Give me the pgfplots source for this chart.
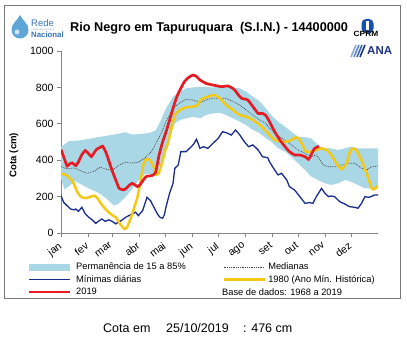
\documentclass[border=0pt]{standalone}
\usepackage{pgfplots}
\pgfplotsset{compat=1.18}
\usepgfplotslibrary{fillbetween}
\usepackage{fontspec}
\setmainfont{Liberation Sans}
\definecolor{bandc}{RGB}{170,215,229}
\definecolor{redc}{RGB}{228,28,36}
\definecolor{yelc}{RGB}{244,200,20}
\definecolor{bluec}{RGB}{24,44,140}
\definecolor{axgray}{RGB}{134,134,134}
\definecolor{framegray}{RGB}{120,120,120}
\definecolor{cprmblue}{RGB}{20,80,175}
\definecolor{anablue}{RGB}{30,50,130}
\definecolor{redeblue}{RGB}{55,115,185}
\definecolor{dropblue}{RGB}{95,165,215}
\begin{document}
\begin{tikzpicture}[x=1pt,y=1pt]
\path (0,0) rectangle (407,350);
\draw[framegray, line width=1pt] (4.5,344) rectangle (400.5,51);
% logos and title
\fill[dropblue] (20,335) to[out=-65,in=90] (28.5,320) arc(0:-180:8.5) to[out=90,in=-115] (20,335);
\fill[white!70!dropblue] (17,318) circle (2.5);
\node[anchor=base west, inner sep=0, text=redeblue, font=\fontsize{9.5}{10}\selectfont] at (31,323.5) {Rede};
\node[anchor=base west, inner sep=0, text=redeblue!60, font=\fontsize{2.6}{3}\selectfont] at (31.5,319.5) {Hidrometeorológica};
\node[anchor=base west, inner sep=0, text=redeblue, font=\bfseries\fontsize{7.8}{9}\selectfont] at (31,312.7) {Nacional};
\node[anchor=base west, inner sep=0, font=\bfseries\fontsize{12.7}{15}\selectfont] at (70,318.3) {Rio Negro em Tapuruquara\ \ (S.I.N.) - 14400000};
\fill[cprmblue, rounded corners=4.5] (361.5,317) rectangle (373.5,331);
\fill[white] (366.4,319.5) rectangle (368.6,328.5);
\node[anchor=base, inner sep=0, font=\bfseries\fontsize{7.6}{9}\selectfont, xscale=1.1] at (366,313) {CPRM};
\foreach \i/\c in {0/cprmblue!50,1/cprmblue!70,2/cprmblue!85,3/anablue} {
  \draw[\c, line width=1.6pt] (351+3*\i,293) -- (356+3*\i,305);
}
\node[anchor=base west, inner sep=0, text=anablue, font=\bfseries\fontsize{11.5}{13}\selectfont] at (367,295) {ANA};
% axis
\begin{axis}[
  at={(61pt,117pt)}, anchor=south west,
  scale only axis, width=317pt, height=182pt,
  xmin=0, xmax=365, ymin=0, ymax=1000,
  axis lines=left,
  axis line style={-, draw=axgray, line width=0.8pt},
  tick style={axgray, line width=0.8pt},
  tick align=outside, major tick length=4pt,
  xtick={0,31,59,90,120,151,181,212,243,273,304,334},
  xticklabels={jan,fev,mar,abr,mai,jun,jul,ago,set,out,nov,dez},
  ytick={0,200,400,600,800,1000},
  x tick label style={xshift=-3pt, yshift=-3pt, rotate=37, anchor=north east, inner sep=1pt, font=\fontsize{10.5}{12}\selectfont},
  y tick label style={font=\fontsize{10.5}{12}\selectfont},
  /pgf/number format/assume math mode=true,
  /pgf/number format/1000 sep={},
  legend columns=2,
  legend cell align=left,
  legend image code/.code={\draw[#1] (0pt,0pt) -- (41pt,0pt);},
  legend style={at={(-0.1104,-0.1547)}, anchor=north west, draw=none, fill=none,
    inner sep=0pt, row sep=0pt,
    font=\fontsize{9.3}{11}\selectfont,
    nodes={inner xsep=2.5pt, inner ysep=1.2pt, text height=7.4pt, text depth=2.4pt},
    /tikz/every even column/.append style={column sep=34pt}},
]
\addlegendimage{bandc, line width=6.5pt}
\addlegendentry{Permanência de 15 a 85\%}
\addlegendimage{black!75, line width=0.7pt, dash pattern=on 0.8pt off 1pt}
\addlegendentry{Medianas}
\addlegendimage{bluec, line width=1.3pt}
\addlegendentry{Mínimas diárias}
\addlegendimage{yelc, line width=2.5pt}
\addlegendentry{1980 (Ano Mín. Histórica)}
\addlegendimage{redc, line width=2.7pt}
\addlegendentry{2019}

\addplot[name path=up, draw=none, forget plot] coordinates {
(0,472) (5,490) (9,505) (20,508) (32,517) (43,527) (55,536) (66,545) (74,554) (82,541) (93,545) (101,549) (109,563) (114,609) (121,685) (129,749) (137,777) (144,795) (152,800) (163,804) (175,800) (186,804) (198,800) (206,795) (213,777) (221,749) (229,722) (235,690) (242,648) (250,612) (258,584) (265,557) (273,529) (281,526) (288,520) (292,502) (298,474) (304,465) (311,465) (319,456) (327,465) (334,474) (342,465) (350,465) (357,465) (365,465)
};
\addplot[name path=lo, draw=none, forget plot] coordinates {
(0,300) (4,240) (10,260) (16,285) (24,265) (32,245) (40,228) (47,210) (55,178) (61,150) (66,160) (74,196) (82,242) (89,288) (97,325) (105,325) (112,347) (116,390) (120,440) (125,529) (131,603) (137,621) (144,630) (152,639) (160,630) (167,648) (175,657) (183,661) (190,648) (198,630) (206,612) (213,593) (221,566) (229,548) (236,520) (242,502) (250,465) (258,447) (265,419) (273,383) (281,346) (288,310) (296,291) (304,273) (311,264) (319,273) (327,291) (334,282) (342,264) (350,245) (357,245) (365,245)
};
\addplot[fill=bandc, draw=none, forget plot] fill between[of=up and lo];

\addplot[black!75, line width=0.7pt, dash pattern=on 0.8pt off 1pt, forget plot] coordinates {
(0,365) (7,352) (15,358) (22,343) (30,328) (38,339) (45,361) (51,352) (59,343) (66,371) (74,389) (82,384) (89,389) (97,413) (105,453) (110,499) (116,554) (121,612) (129,685) (136,712) (144,734) (152,731) (160,716) (167,731) (175,740) (183,740) (190,740) (198,722) (206,703) (213,676) (221,648) (229,621) (235,605) (242,566) (250,533) (258,511) (265,484) (273,456) (281,438) (288,419) (294,429) (298,401) (302,374) (308,364) (315,364) (323,374) (331,383) (338,383) (346,355) (352,346) (357,364) (365,368)
};

\addplot[bluec, line width=1.3pt, forget plot] coordinates {
(0,205) (3,169) (7,150) (11,132) (15,127) (17,132) (20,119) (24,141) (28,105) (32,86) (36,72) (40,53) (43,64) (47,77) (51,64) (55,72) (59,64) (63,50) (66,60) (70,70) (74,85) (78,95) (82,105) (86,114) (89,95) (94,123) (99,196) (103,178) (107,141) (111,105) (114,86) (117,81) (119,100) (121,145) (125,218) (129,273) (131,355) (135,374) (138,447) (144,447) (150,474) (153,490) (156,515) (160,465) (164,474) (169,465) (175,493) (181,520) (186,557) (192,548) (196,538) (201,566) (206,538) (211,502) (216,474) (221,484) (227,456) (232,419) (238,414) (240,392) (246,346) (250,319) (254,328) (260,291) (263,255) (269,236) (275,200) (281,163) (286,167) (290,163) (294,200) (300,245) (304,218) (308,200) (311,203) (315,200) (321,172) (327,159) (332,145) (338,141) (342,136) (346,163) (350,200) (354,196) (357,200) (361,209) (365,209)
};

\addplot[yelc, line width=2.5pt, smooth, tension=0.3, forget plot] coordinates {
(0,325) (4,322) (7,316) (10,300) (13,288) (16,258) (18,233) (21,210) (24,196) (27,192) (30,193) (33,198) (36,202) (39,205) (42,190) (45,169) (48,150) (51,132) (54,118) (57,105) (60,95) (63,86) (66,65) (68,50) (71,32) (73,22) (76,31) (79,65) (82,105) (85,150) (88,196) (91,270) (93,320) (95,380) (97,400) (99,407) (101,405) (103,398) (105,380) (107,361) (110,321) (112,325) (114,347) (117,395) (120,453) (123,490) (125,529) (128,590) (131,648) (134,665) (137,676) (144,690) (152,694) (157,703) (161,731) (165,742) (169,749) (173,755) (177,758) (180,750) (183,740) (187,720) (190,703) (194,690) (198,676) (202,660) (206,648) (213,639) (221,621) (229,593) (232,580) (236,560) (240,540) (244,518) (248,507) (254,502) (260,502) (265,511) (271,526) (275,511) (279,474) (282,447) (288,447) (294,456) (300,465) (306,456) (311,429) (317,383) (323,350) (327,370) (329,383) (332,438) (335,462) (338,462) (340,456) (343,430) (346,401) (350,350) (352,328) (357,255) (359,240) (362,245) (365,260)
};

\addplot[redc, line width=2.7pt, smooth, tension=0.3, forget plot] coordinates {
(0,459) (3,420) (7,368) (10,380) (13,385) (17,370) (20,390) (24,430) (28,453) (32,435) (35,420) (38,440) (41,460) (45,470) (48,477) (52,440) (55,398) (58,355) (61,316) (64,280) (67,245) (72,237) (75,245) (78,260) (82,273) (85,265) (88,255) (91,265) (93,279) (98,310) (105,316) (109,334) (113,430) (117,500) (121,557) (125,620) (129,685) (132,730) (135,767) (142,831) (147,855) (152,868) (156,860) (160,841) (167,822) (175,813) (180,808) (185,804) (192,808) (196,800) (200,786) (204,760) (208,740) (215,731) (221,694) (227,657) (232,657) (236,645) (240,612) (246,557) (252,511) (258,474) (263,447) (269,429) (275,429) (281,419) (285,405) (288,429) (292,465) (297,476)
};
\end{axis}
\node[anchor=center, rotate=90, inner sep=0, font=\bfseries\fontsize{9.6}{11}\selectfont] at (14,195) {Cota (cm)};
\node[anchor=west, inner sep=0, font=\fontsize{9.3}{11}\selectfont] at (222,58.3) {Base de dados: 1968 a 2019};
\node[anchor=base west, inner sep=0, font=\fontsize{12.5}{14}\selectfont] at (103,17) {Cota em};
\node[anchor=base west, inner sep=0, font=\fontsize{12.5}{14}\selectfont] at (166,17) {25/10/2019};
\node[anchor=base west, inner sep=0, font=\fontsize{12.5}{14}\selectfont] at (243,17) {: 476 cm};
\end{tikzpicture}
\end{document}
